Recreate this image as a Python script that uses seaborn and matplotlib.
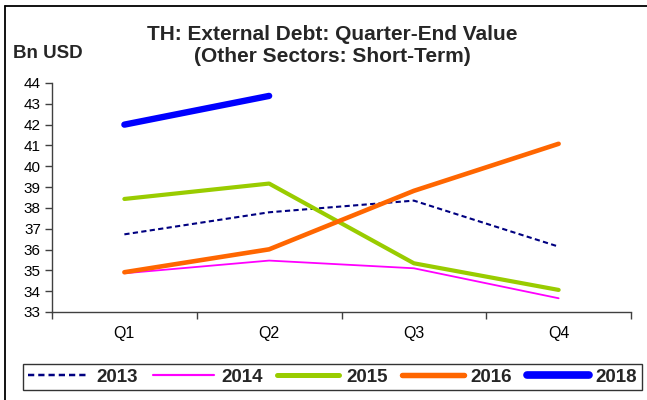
import matplotlib
matplotlib.use("Agg")
import matplotlib.pyplot as plt
from matplotlib.lines import Line2D
import seaborn as sns
import pandas as pd

# Quarter-end short-term external debt of other sectors, Bn USD
quarters = ["Q1", "Q2", "Q3", "Q4"]
debt_2013 = [36.73, 37.79, 38.35, 36.14]
debt_2014 = [34.86, 35.47, 35.10, 33.66]
debt_2015 = [38.43, 39.17, 35.34, 34.06]
debt_2016 = [34.91, 36.01, 38.82, 41.08]
debt_2018 = [42.00, 43.38]

years = ["2013", "2014", "2015", "2016", "2018"]
series = [debt_2013, debt_2014, debt_2015, debt_2016, debt_2018]

rows = []
for yr, vals in zip(years, series):
    for q, v in zip(quarters, vals):
        rows.append({"Quarter": q, "Value": v, "Year": yr})
df = pd.DataFrame(rows)

palette = {"2013": "#000080", "2014": "#FF00FF", "2015": "#99CC00",
           "2016": "#FF6600", "2018": "#0000FF"}
widths = {"2013": 1.5, "2014": 1.3, "2015": 3.0, "2016": 3.3, "2018": 4.6}
dash_map = {"2013": (2.5, 1.6), "2014": "", "2015": "", "2016": "", "2018": ""}

sns.set_theme(style="white")
plt.rcParams["font.family"] = ["Liberation Sans", "DejaVu Sans"]

fig = plt.figure(figsize=(6.47, 4.0), dpi=100)
ax = fig.add_axes([52 / 647, 1 - 312 / 400, (631 - 52) / 647, (312 - 83) / 400])

sns.lineplot(data=df, x="Quarter", y="Value", hue="Year", style="Year",
             palette=palette, dashes=dash_map, hue_order=years,
             style_order=years, sort=False, ax=ax, legend=False)

for line, yr in zip(ax.get_lines(), years):
    line.set_linewidth(widths[yr])
    line.set_solid_capstyle("round")
    line.set_dash_capstyle("butt")

ax.set_xlim(-0.5, 3.5)
ax.set_ylim(33, 44)
ax.set_yticks(range(33, 45))
ax.set_xticks([-0.5, 0.5, 1.5, 2.5, 3.5])
ax.set_xticklabels([])
ax.set_xticks(range(len(quarters)), minor=True)
ax.set_xticklabels(quarters, minor=True)
ax.tick_params(axis="x", which="major", direction="out", length=5, width=1,
               color="#404040", bottom=True)
ax.tick_params(axis="x", which="minor", length=0, pad=10, labelsize=11.5,
               labelcolor="black")
ax.tick_params(axis="y", direction="out", length=5, width=1, color="#404040",
               left=True, labelsize=11, labelcolor="black", pad=3)
ax.set_xlabel("")
ax.set_ylabel("")
for side in ("top", "right"):
    ax.spines[side].set_visible(False)
for side in ("left", "bottom"):
    ax.spines[side].set_color("#404040")
    ax.spines[side].set_linewidth(1)

fig.text(332 / 647, 1 - 46 / 400,
         "TH: External Debt: Quarter-End Value\n(Other Sectors: Short-Term)",
         ha="center", va="center", fontsize=15, fontweight="bold",
         linespacing=1.2)
fig.text(13 / 647, 1 - 54 / 400, "Bn USD", ha="left", va="center",
         fontsize=13.5, fontweight="bold")

handles = [Line2D([], [], color=palette[yr], lw=widths[yr] * 1.2,
                  linestyle=(0, dash_map[yr]) if dash_map[yr] else "-",
                  solid_capstyle="round")
           for yr in years]
leg = fig.legend(handles, years, loc="center",
                 bbox_to_anchor=((21 + 644) / 2 / 647, 1 - 377 / 400),
                 ncol=5, frameon=True, fancybox=False, edgecolor="black",
                 handlelength=3.3, handletextpad=0.35, columnspacing=0.8,
                 borderpad=0.25, prop={"weight": "bold", "size": 13.5})
leg.get_frame().set_linewidth(1)

# outer frame along the top and left edges
fig.add_artist(Line2D([5 / 647, 1], [1 - 6 / 400, 1 - 6 / 400],
                      color="black", lw=1.3, transform=fig.transFigure))
fig.add_artist(Line2D([5 / 647, 5 / 647], [0, 1 - 6 / 400],
                      color="black", lw=1.3, transform=fig.transFigure))

fig.savefig("out.png", dpi=100, facecolor="white")
